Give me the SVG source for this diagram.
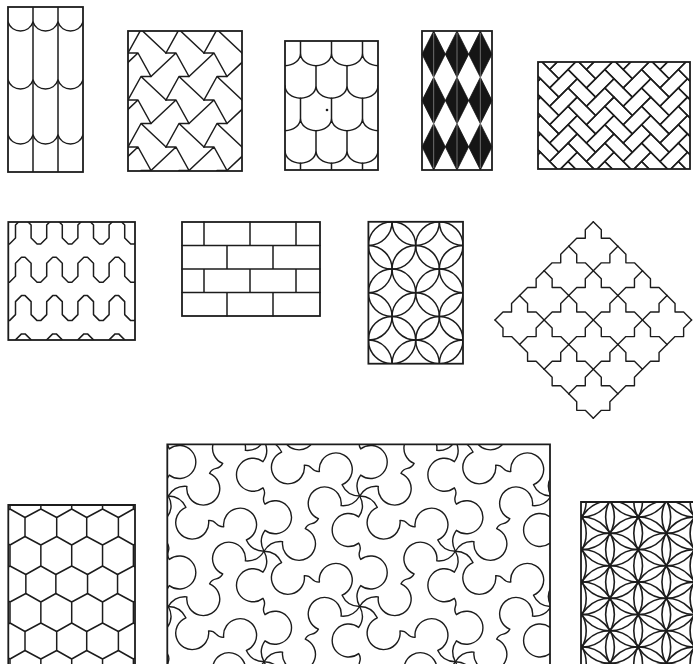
<svg xmlns="http://www.w3.org/2000/svg" xmlns:xlink="http://www.w3.org/1999/xlink" width="693" height="664" viewBox="0 0 693 664">
<style>
.ln{fill:none;stroke:#1c1c1c;stroke-width:1.5;stroke-linejoin:round;stroke-linecap:round}
.fr{fill:none;stroke:#1c1c1c;stroke-width:1.8}
.blk{fill:#151515;stroke:#151515;stroke-width:0.8}
</style>
<defs>
<clipPath id="c1"><rect x="8" y="7" width="75" height="165"/></clipPath>
<clipPath id="c2"><rect x="128" y="31" width="114" height="140"/></clipPath>
<clipPath id="c3"><rect x="285" y="41" width="93" height="129"/></clipPath>
<clipPath id="c5"><rect x="538" y="62" width="152" height="107"/></clipPath>
<clipPath id="c6"><rect x="8.3" y="222" width="126.7" height="118"/></clipPath>
<clipPath id="c8"><rect x="368.4" y="221.8" width="94.6" height="141.9"/></clipPath>
<clipPath id="c10"><rect x="8.3" y="505" width="126.7" height="170"/></clipPath>
<clipPath id="c11"><rect x="167.3" y="444.3" width="382.7" height="230"/></clipPath>
<clipPath id="c12"><rect x="581" y="502" width="120" height="170"/></clipPath>
<path id="sc" d="M8,22 C12,34 29,34 33,22 C37,34 54,34 58,22 C62,34 79,34 83,22"/>
<path id="m2" d="M0,0H10 M13,23.5H23 M10,0L23,23.5 M13,23.5L0,47 M13,23.5L38,47 M10,0L-15,23.5"/>
<g id="r2"><use xlink:href="#m2" x="90"/><use xlink:href="#m2" x="128"/><use xlink:href="#m2" x="166"/><use xlink:href="#m2" x="204"/><use xlink:href="#m2" x="242"/></g>
<path id="a3o" d="M269.5,0 A15.5,12.5 0 0 0 300.5,0 A15.5,12.5 0 0 0 331.5,0 A15.5,12.5 0 0 0 362.5,0 A15.5,12.5 0 0 0 393.5,0 M300.5,0V-20 M331.5,0V-20 M362.5,0V-20"/>
<path id="a3e" d="M285,0 A15.5,12.5 0 0 0 316,0 A15.5,12.5 0 0 0 347,0 A15.5,12.5 0 0 0 378,0 M316,0V-20 M347,0V-20"/>
<g id="hb2"><rect x="0" y="0" width="26" height="13"/><rect x="0" y="13" width="13" height="26"/></g>
<g id="hb8"><use xlink:href="#hb2"/><use xlink:href="#hb2" x="13" y="13"/><use xlink:href="#hb2" x="26" y="26"/><use xlink:href="#hb2" x="39" y="39"/></g>
<g id="hbS"><use xlink:href="#hb8" x="-208" y="-208"/><use xlink:href="#hb8" x="-156" y="-156"/><use xlink:href="#hb8" x="-104" y="-104"/><use xlink:href="#hb8" x="-52" y="-52"/><use xlink:href="#hb8"/><use xlink:href="#hb8" x="52" y="52"/><use xlink:href="#hb8" x="104" y="104"/><use xlink:href="#hb8" x="156" y="156"/></g>
<path id="w6" d="M-15.7,19 L-15.7,6 L-9.7,0 L-6.1,0 L-0.1,6 L-0.1,19 L5.9,25 L9.5,25 L15.5,19 L15.5,6 L21.5,0 L25.1,0 L31.1,6 L31.1,19 L37.1,25 L40.7,25 L46.7,19 L46.7,6 L52.7,0 L56.3,0 L62.3,6 L62.3,19 L68.3,25 L71.9,25 L77.9,19 L77.9,6 L83.9,0 L87.5,0 L93.5,6 L93.5,19 L99.5,25 L103.1,25 L109.1,19 L109.1,6 L115.1,0 L118.7,0 L124.7,6 L124.7,19 L130.7,25 L134.3,25 L140.3,19 L140.3,6"/>
<g id="r8e"><circle cx="368.4" cy="0" r="23.65"/><circle cx="415.7" cy="0" r="23.65"/><circle cx="463" cy="0" r="23.65"/></g>
<g id="r8o"><circle cx="344.75" cy="0" r="23.65"/><circle cx="392.05" cy="0" r="23.65"/><circle cx="439.35" cy="0" r="23.65"/><circle cx="486.65" cy="0" r="23.65"/></g>
<path id="f9" d="M0,0 L8,8 L8,16.58 L16.58,16.58 L24.58,24.58"/>
<path id="g9" d="M0,0 L-8,8 L-8,16.58 L-16.58,16.58 L-24.58,24.58"/>
<path id="hx" d="M0,-18 L15,-9.5 L15,9.5 L0,18 L-15,9.5 L-15,-9.5 Z M0,-18 V-39 M-15.85,-47.5 L0,-39 L15.85,-47.5 M0,18 V39 M-15.85,47.5 L0,39 L15.85,47.5"/>
<path id="tp" d="M0,0 Q11,-6 20.9,1 A16.5,16.5 0 1 0 47.1,1 Q51,-1.5 55.25,0 Q59.5,1.5 63.4,-1 A16.5,16.5 0 1 1 89.6,-1 Q99.5,6 110.5,0"/>
<g id="fe"><circle cy="468.3" r="32.5"/><circle cy="500.8" r="32.5"/><circle cy="533.3" r="32.5"/><circle cy="565.8" r="32.5"/><circle cy="598.3" r="32.5"/><circle cy="630.8" r="32.5"/><circle cy="663.3" r="32.5"/><circle cy="695.8" r="32.5"/></g>
<g id="fo"><circle cy="484.55" r="32.5"/><circle cy="517.05" r="32.5"/><circle cy="549.55" r="32.5"/><circle cy="582.05" r="32.5"/><circle cy="614.55" r="32.5"/><circle cy="647.05" r="32.5"/><circle cy="679.55" r="32.5"/></g>
</defs>
<rect width="693" height="664" fill="#fff"/>

<g id="p1-roof-tiles">
<g clip-path="url(#c1)" class="ln">
<path d="M33,7V172 M58,7V172"/>
<use xlink:href="#sc"/><use xlink:href="#sc" y="58"/><use xlink:href="#sc" y="113"/>
</g>
<rect class="fr" x="8" y="7" width="75" height="165"/>
</g>

<g id="p2-hex-zigzag">
<g clip-path="url(#c2)" class="ln">
<use xlink:href="#r2" y="6"/><use xlink:href="#r2" y="53"/><use xlink:href="#r2" y="100"/><use xlink:href="#r2" y="147"/>
</g>
<rect class="fr" x="128" y="31" width="114" height="140"/>
</g>

<g id="p3-fish-scales">
<g clip-path="url(#c3)" class="ln">
<use xlink:href="#a3o" y="53.2"/><use xlink:href="#a3e" y="85.7"/><use xlink:href="#a3o" y="118.2"/><use xlink:href="#a3e" y="150.7"/><use xlink:href="#a3o" y="183.2"/>
</g>
<circle cx="327" cy="110" r="1.3" fill="#1c1c1c"/>
<rect class="fr" x="285" y="41" width="93" height="129"/>
</g>

<g id="p4-harlequin">
<g class="blk">
<path d="M433.67,31 L445.33,54.17 L433.67,77.33 L422,54.17 Z M457,31 L468.67,54.17 L457,77.33 L445.33,54.17 Z M480.33,31 L492,54.17 L480.33,77.33 L468.67,54.17 Z"/>
<path d="M433.67,77.33 L445.33,100.5 L433.67,123.67 L422,100.5 Z M457,77.33 L468.67,100.5 L457,123.67 L445.33,100.5 Z M480.33,77.33 L492,100.5 L480.33,123.67 L468.67,100.5 Z"/>
<path d="M433.67,123.67 L445.33,146.83 L433.67,170 L422,146.83 Z M457,123.67 L468.67,146.83 L457,170 L445.33,146.83 Z M480.33,123.67 L492,146.83 L480.33,170 L468.67,146.83 Z"/>
</g>
<path d="M433.67,33V168 M457,33V168 M480.33,33V168" stroke="#fff" stroke-width="0.7" opacity="0.55"/>
<rect class="fr" x="422" y="31" width="70" height="139"/>
</g>

<g id="p5-herringbone">
<g clip-path="url(#c5)">
<g transform="translate(614,115.5) rotate(45)" class="ln">
<use xlink:href="#hbS" x="-260"/><use xlink:href="#hbS" x="-208"/><use xlink:href="#hbS" x="-156"/><use xlink:href="#hbS" x="-104"/><use xlink:href="#hbS" x="-52"/><use xlink:href="#hbS"/><use xlink:href="#hbS" x="52"/><use xlink:href="#hbS" x="104"/><use xlink:href="#hbS" x="156"/><use xlink:href="#hbS" x="208"/><use xlink:href="#hbS" x="260"/>
</g>
</g>
<rect class="fr" x="538" y="62" width="152" height="107"/>
</g>

<g id="p6-meander">
<g clip-path="url(#c6)" class="ln">
<use xlink:href="#w6" y="219"/><use xlink:href="#w6" y="257.3"/><use xlink:href="#w6" y="295.6"/><use xlink:href="#w6" y="333.9"/>
</g>
<rect class="fr" x="8.3" y="222" width="126.7" height="118"/>
</g>

<g id="p7-bricks">
<path class="ln" d="M182,245.5H320 M182,269H320 M182,292.5H320 M204,222V245.5 M250,222V245.5 M296,222V245.5 M204,269V292.5 M250,269V292.5 M296,269V292.5 M227,245.5V269 M273,245.5V269 M227,292.5V316 M273,292.5V316"/>
<rect class="fr" x="182" y="222" width="138" height="94"/>
</g>

<g id="p8-circles">
<g clip-path="url(#c8)" class="ln">
<use xlink:href="#r8o" y="198.15"/><use xlink:href="#r8e" y="221.8"/><use xlink:href="#r8o" y="245.45"/><use xlink:href="#r8e" y="269.1"/><use xlink:href="#r8o" y="292.75"/><use xlink:href="#r8e" y="316.4"/><use xlink:href="#r8o" y="340.05"/><use xlink:href="#r8e" y="363.7"/><use xlink:href="#r8o" y="387.35"/>
</g>
<rect class="fr" x="368.4" y="221.8" width="94.6" height="141.9"/>
</g>

<g id="p9-cross-tiles" class="ln" style="stroke-width:1.4">
<use xlink:href="#f9" x="593.3" y="221.7"/><use xlink:href="#f9" x="617.88" y="246.28"/><use xlink:href="#f9" x="642.46" y="270.86"/><use xlink:href="#f9" x="667.04" y="295.44"/>
<use xlink:href="#f9" x="568.72" y="246.28"/><use xlink:href="#f9" x="593.3" y="270.86"/><use xlink:href="#f9" x="617.88" y="295.44"/><use xlink:href="#f9" x="642.46" y="320.02"/>
<use xlink:href="#f9" x="544.14" y="270.86"/><use xlink:href="#f9" x="568.72" y="295.44"/><use xlink:href="#f9" x="593.3" y="320.02"/><use xlink:href="#f9" x="617.88" y="344.6"/>
<use xlink:href="#f9" x="519.56" y="295.44"/><use xlink:href="#f9" x="544.14" y="320.02"/><use xlink:href="#f9" x="568.72" y="344.6"/><use xlink:href="#f9" x="593.3" y="369.18"/>
<use xlink:href="#f9" x="494.98" y="320.02"/><use xlink:href="#f9" x="519.56" y="344.6"/><use xlink:href="#f9" x="544.14" y="369.18"/><use xlink:href="#f9" x="568.72" y="393.76"/>
<use xlink:href="#g9" x="593.3" y="221.7"/><use xlink:href="#g9" x="617.88" y="246.28"/><use xlink:href="#g9" x="642.46" y="270.86"/><use xlink:href="#g9" x="667.04" y="295.44"/><use xlink:href="#g9" x="691.62" y="320.02"/>
<use xlink:href="#g9" x="568.72" y="246.28"/><use xlink:href="#g9" x="593.3" y="270.86"/><use xlink:href="#g9" x="617.88" y="295.44"/><use xlink:href="#g9" x="642.46" y="320.02"/><use xlink:href="#g9" x="667.04" y="344.6"/>
<use xlink:href="#g9" x="544.14" y="270.86"/><use xlink:href="#g9" x="568.72" y="295.44"/><use xlink:href="#g9" x="593.3" y="320.02"/><use xlink:href="#g9" x="617.88" y="344.6"/><use xlink:href="#g9" x="642.46" y="369.18"/>
<use xlink:href="#g9" x="519.56" y="295.44"/><use xlink:href="#g9" x="544.14" y="320.02"/><use xlink:href="#g9" x="568.72" y="344.6"/><use xlink:href="#g9" x="593.3" y="369.18"/><use xlink:href="#g9" x="617.88" y="393.76"/>
</g>

<g id="p10-hexagons">
<g clip-path="url(#c10)" class="ln">
<use xlink:href="#hx" x="40.85" y="470"/><use xlink:href="#hx" x="102.55" y="470"/>
<use xlink:href="#hx" x="10" y="527"/><use xlink:href="#hx" x="71.7" y="527"/><use xlink:href="#hx" x="133.4" y="527"/>
<use xlink:href="#hx" x="40.85" y="584"/><use xlink:href="#hx" x="102.55" y="584"/>
<use xlink:href="#hx" x="10" y="641"/><use xlink:href="#hx" x="71.7" y="641"/><use xlink:href="#hx" x="133.4" y="641"/>
<use xlink:href="#hx" x="40.85" y="698"/><use xlink:href="#hx" x="102.55" y="698"/>
</g>
<path class="fr" d="M8.3,670V505H135V670"/>
</g>

<g id="p11-trefoils">
<g clip-path="url(#c11)" class="ln" style="stroke-width:1.4">
<use xlink:href="#tp" transform="translate(72.6,440.75) rotate(30)"/><use xlink:href="#tp" transform="translate(72.6,551.25) rotate(30)"/><use xlink:href="#tp" transform="translate(72.6,661.75) rotate(30)"/>
<use xlink:href="#tp" transform="translate(168.3,385.5) rotate(30)"/><use xlink:href="#tp" transform="translate(168.3,496) rotate(30)"/><use xlink:href="#tp" transform="translate(168.3,606.5) rotate(30)"/>
<use xlink:href="#tp" transform="translate(264,440.75) rotate(30)"/><use xlink:href="#tp" transform="translate(264,551.25) rotate(30)"/><use xlink:href="#tp" transform="translate(264,661.75) rotate(30)"/>
<use xlink:href="#tp" transform="translate(359.7,385.5) rotate(30)"/><use xlink:href="#tp" transform="translate(359.7,496) rotate(30)"/><use xlink:href="#tp" transform="translate(359.7,606.5) rotate(30)"/>
<use xlink:href="#tp" transform="translate(455.4,440.75) rotate(30)"/><use xlink:href="#tp" transform="translate(455.4,551.25) rotate(30)"/><use xlink:href="#tp" transform="translate(455.4,661.75) rotate(30)"/>
<use xlink:href="#tp" transform="translate(551.1,385.5) rotate(30)"/><use xlink:href="#tp" transform="translate(551.1,496) rotate(30)"/><use xlink:href="#tp" transform="translate(551.1,606.5) rotate(30)"/>
<use xlink:href="#tp" transform="translate(72.6,440.75) rotate(-30)"/><use xlink:href="#tp" transform="translate(72.6,551.25) rotate(-30)"/><use xlink:href="#tp" transform="translate(72.6,661.75) rotate(-30)"/>
<use xlink:href="#tp" transform="translate(168.3,496) rotate(-30)"/><use xlink:href="#tp" transform="translate(168.3,606.5) rotate(-30)"/><use xlink:href="#tp" transform="translate(168.3,717) rotate(-30)"/>
<use xlink:href="#tp" transform="translate(264,440.75) rotate(-30)"/><use xlink:href="#tp" transform="translate(264,551.25) rotate(-30)"/><use xlink:href="#tp" transform="translate(264,661.75) rotate(-30)"/>
<use xlink:href="#tp" transform="translate(359.7,496) rotate(-30)"/><use xlink:href="#tp" transform="translate(359.7,606.5) rotate(-30)"/><use xlink:href="#tp" transform="translate(359.7,717) rotate(-30)"/>
<use xlink:href="#tp" transform="translate(455.4,440.75) rotate(-30)"/><use xlink:href="#tp" transform="translate(455.4,551.25) rotate(-30)"/><use xlink:href="#tp" transform="translate(455.4,661.75) rotate(-30)"/>
<use xlink:href="#tp" transform="translate(551.1,496) rotate(-30)"/><use xlink:href="#tp" transform="translate(551.1,606.5) rotate(-30)"/><use xlink:href="#tp" transform="translate(551.1,717) rotate(-30)"/>
<use xlink:href="#tp" transform="translate(168.3,385.5) rotate(90)"/><use xlink:href="#tp" transform="translate(168.3,496) rotate(90)"/><use xlink:href="#tp" transform="translate(168.3,606.5) rotate(90)"/>
<use xlink:href="#tp" transform="translate(264,330.25) rotate(90)"/><use xlink:href="#tp" transform="translate(264,440.75) rotate(90)"/><use xlink:href="#tp" transform="translate(264,551.25) rotate(90)"/><use xlink:href="#tp" transform="translate(264,661.75) rotate(90)"/>
<use xlink:href="#tp" transform="translate(359.7,385.5) rotate(90)"/><use xlink:href="#tp" transform="translate(359.7,496) rotate(90)"/><use xlink:href="#tp" transform="translate(359.7,606.5) rotate(90)"/>
<use xlink:href="#tp" transform="translate(455.4,330.25) rotate(90)"/><use xlink:href="#tp" transform="translate(455.4,440.75) rotate(90)"/><use xlink:href="#tp" transform="translate(455.4,551.25) rotate(90)"/><use xlink:href="#tp" transform="translate(455.4,661.75) rotate(90)"/>
<use xlink:href="#tp" transform="translate(551.1,385.5) rotate(90)"/><use xlink:href="#tp" transform="translate(551.1,496) rotate(90)"/><use xlink:href="#tp" transform="translate(551.1,606.5) rotate(90)"/>
</g>
<path class="fr" d="M167.3,670V444.3H550V670"/>
</g>

<g id="p12-flower-of-life">
<g clip-path="url(#c12)" class="ln" style="stroke-width:1.6">
<use xlink:href="#fe" x="553.7"/><use xlink:href="#fe" x="610"/><use xlink:href="#fe" x="666.3"/><use xlink:href="#fe" x="722.6"/>
<use xlink:href="#fo" x="581.85"/><use xlink:href="#fo" x="638.15"/><use xlink:href="#fo" x="694.45"/>
</g>
<path class="fr" d="M581,670V502H700"/>
</g>
</svg>
